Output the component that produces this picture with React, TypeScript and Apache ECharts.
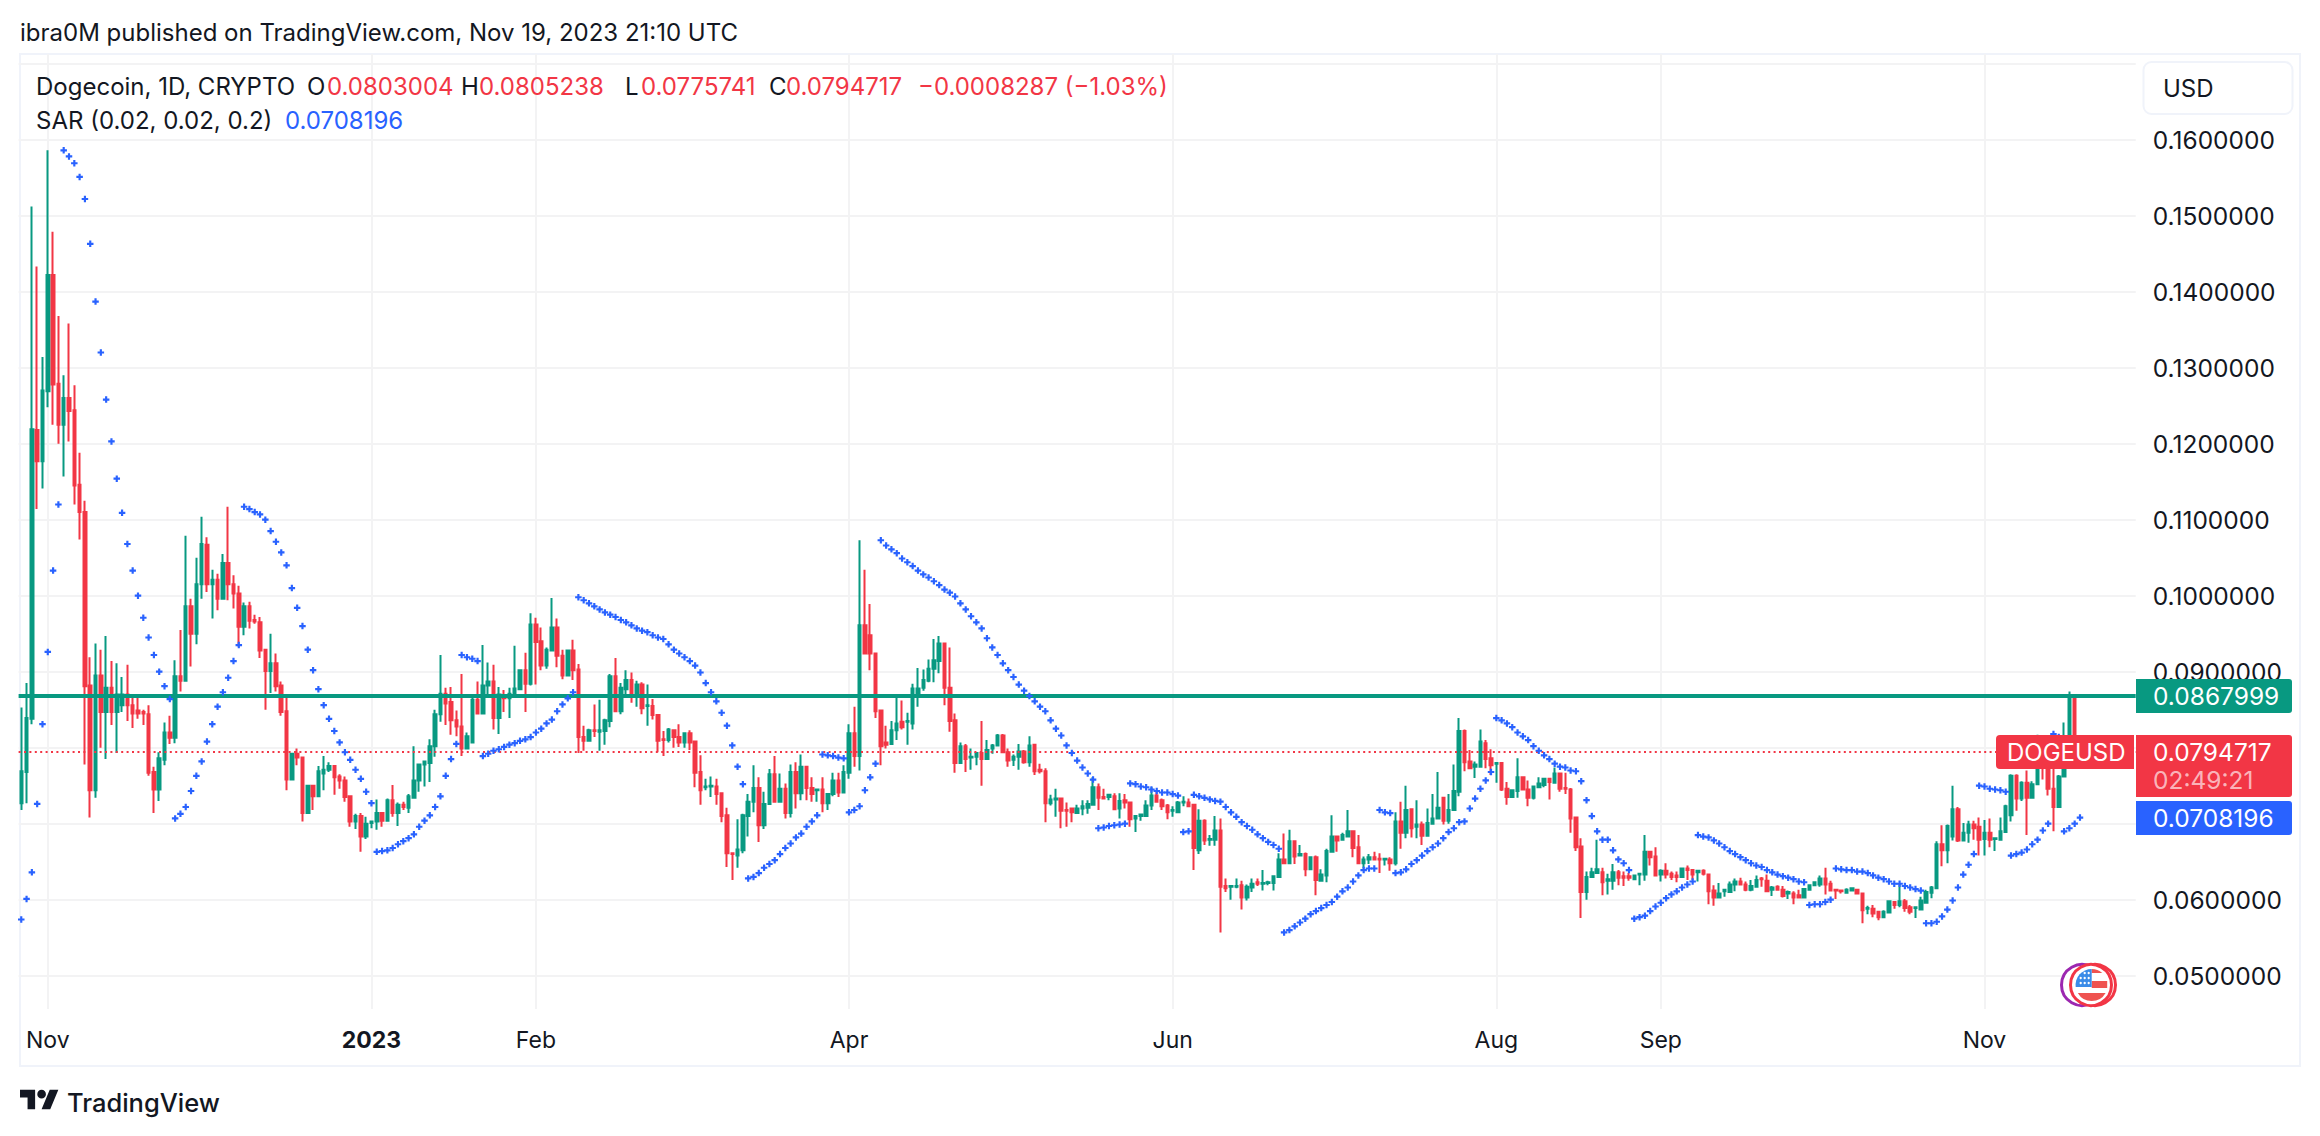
import React, { useEffect, useRef } from "react";
import * as echarts from "echarts";

// Daily bars from 2022-10-27, each row: open, close, low, high
const candles: number[][] = [
  [.0727,.0769,.0718,.0853],[.0768,.0839,.0727,.0885],[.0838,.1219,.0831,.1512],[.1218,.1177,.1114,.1433],[.1177,.1270,.1141,.1314],
  [.1269,.1422,.1248,.1586],[.1422,.1278,.1225,.1479],[.1279,.1225,.1200,.1368],[.1225,.1260,.1157,.1290],[.1260,.1243,.1203,.1358],
  [.1244,.1145,.1120,.1277],[.1146,.1110,.1074,.1188],[.1110,.0881,.0778,.1125],[.0882,.0744,.0708,.0919],[.0744,.0895,.0734,.0937],
  [.0895,.0847,.0800,.0929],[.0847,.0879,.0785,.0947],[.0879,.0847,.0830,.0914],[.0847,.0870,.0793,.0911],[.0856,.0870,.0847,.0893],
  [.0870,.0856,.0835,.0909],[.0856,.0845,.0826,.0869],[.0849,.0845,.0838,.0866],[.0847,.0845,.0830,.0850],[.0844,.0767,.0763,.0856],
  [.0768,.0745,.0714,.0775],[.0745,.0786,.0730,.0794],[.0784,.0820,.0777,.0833],[.0820,.0813,.0805,.0842],[.0813,.0894,.0806,.0915],
  [.0894,.0888,.0874,.0955],[.0888,.0986,.0888,.1079],[.0986,.0950,.0907,.0996],[.0950,.1015,.0936,.1050],[.1015,.1068,.0996,.1104],
  [.1067,.1015,.1005,.1077],[.1015,.1021,.0970,.1034],[.1021,.0996,.0981,.1029],[.0996,.1043,.0996,.1055],[.1043,.1015,.0994,.1117],
  [.1015,.1003,.0983,.1027],[.1003,.0959,.0933,.1013],[.0959,.0986,.0948,.0991],[.0986,.0967,.0957,.0992],[.0968,.0966,.0963,.0975],
  [.0965,.0928,.0918,.0972],[.0929,.0901,.0850,.0929],[.0901,.0911,.0872,.0950],[.0911,.0881,.0874,.0924],[.0882,.0847,.0842,.0887],
  [.0848,.0758,.0744,.0867],[.0758,.0792,.0758,.0792],[.0792,.0787,.0777,.0799],[.0787,.0714,.0703,.0788],[.0714,.0750,.0714,.0750],
  [.0750,.0736,.0718,.0750],[.0736,.0769,.0735,.0776],[.0766,.0771,.0744,.0789],[.0771,.0776,.0768,.0781],[.0776,.0761,.0738,.0776],
  [.0762,.0757,.0746,.0765],[.0757,.0735,.0729,.0762],[.0736,.0703,.0696,.0737],[.0703,.0710,.0693,.0713],[.0710,.0683,.0663,.0714],
  [.0683,.0700,.0680,.0709],[.0701,.0703,.0694,.0703],[.0703,.0714,.0692,.0732],[.0714,.0704,.0696,.0714],[.0704,.0731,.0704,.0733],
  [.0731,.0714,.0709,.0751],[.0714,.0725,.0697,.0728],[.0725,.0722,.0718,.0729],[.0721,.0736,.0714,.0739],[.0734,.0757,.0734,.0802],
  [.0757,.0778,.0742,.0778],[.0778,.0782,.0749,.0782],[.0780,.0802,.0755,.0811],[.0802,.0844,.0788,.0850],[.0844,.0871,.0834,.0922],
  [.0871,.0858,.0830,.0879],[.0860,.0836,.0817,.0880],[.0836,.0828,.0815,.0849],[.0828,.0799,.0789,.0897],[.0799,.0815,.0799,.0820],
  [.0807,.0863,.0807,.0867],[.0863,.0845,.0845,.0887],[.0845,.0882,.0845,.0935],[.0882,.0887,.0869,.0912],[.0887,.0839,.0824,.0909],
  [.0839,.0870,.0818,.0880],[.0867,.0865,.0847,.0876],[.0865,.0871,.0839,.0879],[.0871,.0878,.0867,.0934],[.0877,.0902,.0877,.0902],
  [.0902,.0884,.0847,.0925],[.0884,.0962,.0882,.0977],[.0962,.0939,.0883,.0971],[.0940,.0908,.0902,.0958],[.0908,.0929,.0904,.0932],
  [.0928,.0958,.0928,.0997],[.0958,.0921,.0906,.0970],[.0921,.0895,.0890,.0929],[.0895,.0928,.0895,.0929],[.0928,.0902,.0889,.0942],
  [.0903,.0814,.0793,.0910],[.0814,.0809,.0796,.0829],[.0809,.0823,.0809,.0825],[.0823,.0822,.0814,.0857],[.0821,.0823,.0796,.0863],
  [.0822,.0836,.0804,.0838],[.0835,.0894,.0827,.0897],[.0894,.0848,.0848,.0918],[.0848,.0879,.0844,.0885],[.0877,.0889,.0870,.0902],
  [.0889,.0869,.0859,.0899],[.0869,.0883,.0854,.0888],[.0883,.0852,.0844,.0886],[.0855,.0856,.0829,.0883],[.0855,.0843,.0837,.0864],
  [.0843,.0809,.0794,.0843],[.0811,.0810,.0789,.0822],[.0810,.0824,.0807,.0826],[.0823,.0814,.0800,.0824],[.0814,.0807,.0801,.0831],
  [.0807,.0819,.0800,.0819],[.0819,.0807,.0797,.0823],[.0808,.0767,.0748,.0808],[.0768,.0744,.0725,.0790],[.0748,.0749,.0744,.0759],
  [.0749,.0750,.0735,.0762],[.0749,.0739,.0725,.0759],[.0740,.0710,.0702,.0740],[.0711,.0661,.0643,.0721],[.0661,.0660,.0626,.0661],
  [.0658,.0666,.0642,.0706],[.0665,.0711,.0661,.0713],[.0710,.0729,.0683,.0739],[.0729,.0747,.0715,.0777],[.0747,.0698,.0676,.0761],
  [.0698,.0726,.0693,.0742],[.0726,.0765,.0725,.0772],[.0765,.0729,.0728,.0789],[.0729,.0746,.0729,.0766],[.0746,.0714,.0707,.0753],
  [.0714,.0768,.0708,.0778],[.0768,.0740,.0720,.0781],[.0740,.0775,.0731,.0791],[.0775,.0747,.0731,.0775],[.0747,.0739,.0729,.0761],
  [.0744,.0745,.0729,.0745],[.0745,.0727,.0715,.0761],[.0727,.0739,.0718,.0739],[.0739,.0757,.0736,.0767],[.0757,.0741,.0735,.0767],
  [.0741,.0768,.0741,.0777],[.0767,.0819,.0759,.0831],[.0819,.0789,.0775,.0854],[.0789,.0961,.0770,.1073],[.0961,.0924,.0924,.1034],
  [.0948,.0924,.0902,.0989],[.0924,.0848,.0839,.0924],[.0849,.0802,.0777,.0849],[.0807,.0804,.0799,.0829],[.0805,.0823,.0805,.0835],
  [.0823,.0832,.0810,.0866],[.0834,.0827,.0824,.0862],[.0834,.0835,.0804,.0846],[.0832,.0878,.0824,.0884],[.0867,.0878,.0854,.0905],
  [.0879,.0889,.0875,.0903],[.0888,.0904,.0886,.0916],[.0904,.0915,.0886,.0943],[.0914,.0937,.0898,.0947],[.0937,.0879,.0856,.0937],
  [.0879,.0835,.0821,.0932],[.0836,.0780,.0767,.0845],[.0780,.0802,.0780,.0807],[.0802,.0785,.0768,.0805],[.0787,.0788,.0771,.0799],
  [.0788,.0793,.0777,.0794],[.0793,.0785,.0750,.0835],[.0785,.0797,.0785,.0810],[.0799,.0803,.0792,.0805],[.0803,.0816,.0803,.0818],
  [.0816,.0794,.0794,.0818],[.0794,.0783,.0775,.0799],[.0784,.0788,.0776,.0791],[.0788,.0795,.0771,.0805],[.0795,.0781,.0779,.0797],
  [.0781,.0803,.0775,.0815],[.0804,.0769,.0764,.0805],[.0771,.0769,.0766,.0779],[.0769,.0727,.0702,.0773],[.0727,.0732,.0724,.0738],
  [.0732,.0733,.0709,.0746],[.0733,.0717,.0694,.0733],[.0718,.0717,.0696,.0728],[.0720,.0715,.0702,.0720],[.0714,.0720,.0714,.0725],
  [.0720,.0723,.0711,.0731],[.0721,.0726,.0713,.0731],[.0725,.0748,.0725,.0761],[.0748,.0734,.0718,.0753],[.0735,.0733,.0732,.0746],
  [.0735,.0738,.0731,.0739],[.0736,.0719,.0719,.0740],[.0720,.0730,.0707,.0740],[.0731,.0728,.0720,.0739],[.0728,.0706,.0696,.0728],
  [.0707,.0710,.0689,.0711],[.0710,.0712,.0704,.0713],[.0710,.0724,.0710,.0731],[.0724,.0737,.0718,.0748],[.0737,.0729,.0728,.0742],
  [.0731,.0723,.0718,.0733],[.0724,.0715,.0706,.0726],[.0717,.0718,.0709,.0723],[.0715,.0728,.0715,.0730],[.0728,.0729,.0723,.0736],
  [.0728,.0723,.0723,.0733],[.0725,.0668,.0639,.0726],[.0665,.0704,.0660,.0719],[.0704,.0678,.0672,.0706],[.0679,.0680,.0671,.0685],
  [.0679,.0691,.0671,.0710],[.0691,.0617,.0557,.0707],[.0618,.0615,.0610,.0628],[.0617,.0618,.0600,.0618],[.0617,.0618,.0615,.0628],
  [.0619,.0603,.0587,.0625],[.0603,.0617,.0599,.0620],[.0616,.0621,.0610,.0628],[.0623,.0621,.0618,.0628],[.0621,.0622,.0612,.0639],
  [.0622,.0623,.0619,.0625],[.0622,.0631,.0612,.0632],[.0630,.0653,.0630,.0661],[.0653,.0648,.0648,.0687],[.0648,.0677,.0648,.0692],
  [.0677,.0657,.0647,.0678],[.0658,.0660,.0657,.0672],[.0660,.0640,.0631,.0662],[.0640,.0656,.0639,.0657],[.0656,.0626,.0606,.0658],
  [.0625,.0633,.0625,.0640],[.0632,.0664,.0623,.0667],[.0663,.0683,.0663,.0711],[.0683,.0678,.0663,.0684],[.0679,.0685,.0678,.0688],
  [.0683,.0690,.0683,.0718],[.0690,.0668,.0656,.0691],[.0669,.0648,.0648,.0685],[.0648,.0653,.0641,.0657],[.0653,.0656,.0647,.0660],
  [.0656,.0653,.0652,.0663],[.0654,.0653,.0635,.0661],[.0653,.0654,.0645,.0655],[.0653,.0648,.0638,.0656],[.0648,.0703,.0645,.0715],
  [.0703,.0688,.0667,.0729],[.0688,.0718,.0681,.0750],[.0719,.0694,.0682,.0720],[.0696,.0699,.0681,.0731],[.0699,.0684,.0672,.0703],
  [.0684,.0701,.0684,.0720],[.0700,.0707,.0700,.0739],[.0707,.0721,.0707,.0768],[.0734,.0704,.0699,.0735],[.0704,.0718,.0700,.0739],
  [.0718,.0743,.0718,.0778],[.0742,.0822,.0736,.0839],[.0822,.0781,.0769,.0824],[.0782,.0773,.0773,.0797],[.0775,.0778,.0760,.0782],
  [.0775,.0808,.0774,.0824],[.0806,.0785,.0773,.0810],[.0786,.0777,.0764,.0798],[.0779,.0780,.0754,.0781],[.0780,.0745,.0743,.0780],
  [.0746,.0735,.0725,.0755],[.0735,.0744,.0734,.0744],[.0743,.0761,.0734,.0786],[.0761,.0745,.0745,.0762],[.0745,.0734,.0723,.0757],
  [.0734,.0749,.0732,.0749],[.0748,.0753,.0748,.0761],[.0751,.0759,.0748,.0760],[.0759,.0755,.0732,.0760],[.0754,.0766,.0754,.0774],
  [.0766,.0746,.0742,.0767],[.0747,.0746,.0739,.0767],[.0745,.0707,.0688,.0747],[.0708,.0669,.0664,.0709],[.0670,.0610,.0576,.0681],
  [.0610,.0630,.0600,.0637],[.0630,.0636,.0630,.0642],[.0635,.0640,.0634,.0679],[.0636,.0623,.0606,.0642],[.0625,.0627,.0607,.0634],
  [.0625,.0636,.0613,.0647],[.0636,.0629,.0619,.0639],[.0631,.0629,.0618,.0637],[.0631,.0629,.0625,.0635],[.0627,.0632,.0627,.0633],
  [.0633,.0634,.0619,.0634],[.0633,.0663,.0625,.0685],[.0663,.0656,.0645,.0664],[.0657,.0632,.0631,.0669],[.0633,.0638,.0624,.0640],
  [.0638,.0633,.0628,.0648],[.0634,.0630,.0626,.0637],[.0632,.0630,.0623,.0637],[.0630,.0641,.0630,.0642],[.0641,.0639,.0626,.0645],
  [.0639,.0633,.0626,.0639],[.0636,.0638,.0624,.0639],[.0638,.0634,.0632,.0640],[.0633,.0611,.0594,.0633],[.0612,.0603,.0592,.0619],
  [.0603,.0608,.0603,.0622],[.0611,.0613,.0604,.0614],[.0610,.0620,.0610,.0624],[.0620,.0624,.0611,.0628],[.0624,.0620,.0620,.0629],
  [.0620,.0613,.0611,.0624],[.0613,.0618,.0611,.0626],[.0617,.0626,.0617,.0632],[.0628,.0627,.0617,.0630],[.0625,.0611,.0611,.0633],
  [.0613,.0616,.0605,.0618],[.0617,.0613,.0612,.0619],[.0613,.0605,.0603,.0618],[.0608,.0610,.0601,.0612],[.0608,.0603,.0594,.0611],
  [.0606,.0603,.0602,.0613],[.0603,.0614,.0603,.0614],[.0613,.0619,.0612,.0620],[.0619,.0623,.0618,.0624],[.0620,.0628,.0617,.0632],
  [.0628,.0620,.0607,.0642],[.0621,.0612,.0611,.0625],[.0613,.0612,.0601,.0613],[.0612,.0611,.0608,.0613],[.0609,.0613,.0608,.0615],
  [.0612,.0615,.0611,.0616],[.0613,.0608,.0608,.0614],[.0608,.0586,.0569,.0609],[.0588,.0589,.0581,.0592],[.0588,.0582,.0577,.0593],
  [.0584,.0577,.0573,.0585],[.0577,.0584,.0577,.0586],[.0583,.0598,.0583,.0599],[.0597,.0593,.0588,.0598],[.0593,.0598,.0590,.0621],
  [.0598,.0589,.0584,.0601],[.0590,.0584,.0581,.0593],[.0589,.0590,.0576,.0591],[.0587,.0599,.0587,.0604],[.0596,.0610,.0595,.0613],
  [.0609,.0616,.0602,.0618],[.0615,.0673,.0615,.0677],[.0673,.0665,.0644,.0698],[.0665,.0697,.0648,.0699],[.0683,.0719,.0678,.0750],
  [.0719,.0678,.0676,.0722],[.0678,.0688,.0677,.0701],[.0688,.0699,.0675,.0704],[.0699,.0694,.0679,.0704],[.0696,.0679,.0658,.0708],
  [.0680,.0688,.0658,.0705],[.0688,.0679,.0669,.0707],[.0680,.0681,.0664,.0682],[.0679,.0690,.0678,.0708],[.0689,.0723,.0689,.0725],
  [.0711,.0763,.0703,.0765],[.0763,.0733,.0717,.0765],[.0733,.0754,.0730,.0756],[.0754,.0734,.0685,.0770],[.0734,.0752,.0733,.0756],
  [.0752,.0783,.0752,.0817],[.0795,.0783,.0758,.0815],[.0772,.0746,.0737,.0790],[.0746,.0722,.0690,.0772],[.0722,.0762,.0722,.0764],
  [.0762,.0790,.0761,.0833],[.0790,.0868,.0788,.0874],[.0866,.0803,.0795,.0866],[.0803,.0795,.0776,.0805],
];

// Parabolic SAR, one value per bar
const sar: number[] = [
  .0574,.0601,.0636,.0726,.0831,.0926,.1033,.1120,.1586,.1578,.1569,.1551,.1522,.1463,.1387,.1320,.1258,.1203,.1154,.1109,
  .1068,.1033,.1000,.0971,.0945,.0922,.0900,.0881,.0864,.0707,.0713,.0722,.0743,.0763,.0782,.0808,.0831,.0854,.0873,.0892,
  .0914,.0935,.1117,.1114,.1110,.1107,.1100,.1085,.1071,.1057,.1040,.1010,.0984,.0960,.0929,.0902,.0877,.0856,.0838,.0822,
  .0807,.0794,.0784,.0771,.0759,.0742,.0727,.0663,.0664,.0665,.0668,.0673,.0677,.0681,.0686,.0696,.0704,.0711,.0722,.0736,
  .0763,.0785,.0805,.0922,.0919,.0917,.0914,.0789,.0792,.0796,.0798,.0801,.0804,.0806,.0809,.0811,.0814,.0820,.0825,.0832,
  .0837,.0848,.0857,.0865,.0873,.0998,.0994,.0990,.0986,.0982,.0978,.0975,.0972,.0968,.0965,.0961,.0957,.0954,.0952,.0948,
  .0945,.0943,.0936,.0929,.0924,.0919,.0914,.0908,.0899,.0885,.0873,.0861,.0846,.0829,.0803,.0775,.0752,.0628,.0630,.0635,
  .0642,.0647,.0652,.0660,.0668,.0674,.0682,.0687,.0696,.0703,.0711,.0791,.0790,.0789,.0787,.0786,.0715,.0718,.0723,.0744,
  .0761,.0779,.1073,.1066,.1061,.1056,.1049,.1044,.1039,.1033,.1028,.1024,.1019,.1014,.1008,.1004,.0999,.0990,.0982,.0973,
  .0965,.0957,.0944,.0932,.0922,.0911,.0902,.0893,.0883,.0875,.0868,.0861,.0854,.0848,.0836,.0825,.0816,.0803,.0793,.0783,
  .0774,.0766,.0758,.0694,.0695,.0697,.0698,.0699,.0700,.0753,.0752,.0749,.0748,.0745,.0743,.0741,.0741,.0739,.0737,.0689,
  .0690,.0738,.0736,.0734,.0732,.0730,.0729,.0722,.0715,.0709,.0702,.0697,.0692,.0686,.0681,.0676,.0672,.0667,.0557,.0560,
  .0565,.0570,.0575,.0581,.0585,.0589,.0593,.0597,.0604,.0611,.0616,.0624,.0632,.0639,.0641,.0641,.0718,.0715,.0714,.0635,
  .0636,.0640,.0647,.0652,.0658,.0664,.0669,.0674,.0681,.0689,.0694,.0702,.0703,.0720,.0733,.0746,.0757,.0768,.0839,.0836,
  .0832,.0827,.0820,.0815,.0810,.0802,.0796,.0790,.0785,.0779,.0775,.0774,.0770,.0769,.0756,.0731,.0710,.0690,.0679,.0679,
  .0665,.0653,.0648,.0639,.0575,.0577,.0579,.0585,.0591,.0596,.0602,.0607,.0611,.0616,.0620,.0624,.0685,.0683,.0682,.0678,
  .0674,.0669,.0664,.0660,.0656,.0652,.0648,.0645,.0643,.0639,.0636,.0633,.0631,.0629,.0627,.0624,.0623,.0593,.0594,.0594,
  .0597,.0600,.0641,.0640,.0639,.0639,.0637,.0637,.0635,.0632,.0629,.0627,.0624,.0621,.0621,.0618,.0616,.0614,.0612,.0569,
  .0569,.0571,.0578,.0587,.0599,.0616,.0633,.0646,.0660,.0750,.0749,.0746,.0745,.0744,.0742,.0658,.0660,.0662,.0666,.0673,
  .0679,.0691,.0700,.0818,.0814,.0690,.0694,.0700,.0708,
];

const firstDay = "2022-10-27";
const blankBars = 10; // empty space right of the last bar
const monthTicks: Record<string, string> = {
  "2022-11-01": "Nov",
  "2023-01-01": "{b|2023}",
  "2023-02-01": "Feb",
  "2023-04-01": "Apr",
  "2023-06-01": "Jun",
  "2023-08-01": "Aug",
  "2023-09-01": "Sep",
  "2023-11-01": "Nov",
};
const hiddenPriceLabels = ["0.1700000", "0.0800000", "0.0700000"];

const resistance = 0.0867999;
const lastClose = 0.0794717;

const categories: string[] = Array.from({ length: candles.length + blankBars }, (_, i) =>
  new Date(Date.parse(firstDay + "T00:00:00Z") + i * 86400000).toISOString().slice(0, 10)
);

const INK = "#131722";
const GREEN = "#089981";
const RED = "#F23645";
const BLUE = "#2962FF";
const GRID = "#f3f3f4";
const FONT = "Inter, 'Noto Sans', sans-serif";

echarts.graphic.registerShape(
  "tvLogo",
  echarts.graphic.extendPath("M14 22H7V11H0V4h14v18zM28 22h-8l7.5-18h8L28 22zM24 8a4 4 0 1 1-8 0a4 4 0 1 1 8 0z", {})
);
echarts.graphic.registerShape("flagCanton", echarts.graphic.extendPath("M-16,2A16,16 0 0 1 0,-16L0,2Z", {}));
echarts.graphic.registerShape("flagTop", echarts.graphic.extendPath("M0,-16A16,16 0 0 1 10.6,-12L0,-12Z", {}));
echarts.graphic.registerShape("flagMid", echarts.graphic.extendPath("M0,-4L15.5,-4L15.5,3L0,3Z", {}));
echarts.graphic.registerShape("flagBottom", echarts.graphic.extendPath("M-13.9,8A16,16 0 0 0 13.9,8Z", {}));

const txt = (text: string, x: number, y: number, fill: string, size = 24, extra: any = {}) => ({
  type: "text",
  z: 100,
  style: { text, x, y, fill, font: `${size}px ${FONT}`, textVerticalAlign: "middle", ...extra },
});

const priceTag = (y: number, h: number, fill: string) => ({
  type: "rect",
  z: 90,
  shape: { x: 2136, y, width: 156, height: h, r: [0, 3, 3, 0] },
  style: { fill },
});

const stars: any[] = [];
[-12, -7, -2].forEach((dy, row) =>
  [-11, -7, -3].forEach((dx) => {
    if (row === 0 && dx === -11) return;
    stars.push({ type: "circle", z: 104, shape: { cx: 2091.7 + dx, cy: 985 + dy, r: 1.2 }, style: { fill: "#fff" } });
  })
);

const flagAt = { x: 2091.7, y: 985 };

const graphics: any[] = [
  { type: "rect", z: 0, shape: { x: 20, y: 54, width: 2280, height: 1012 }, style: { fill: "none", stroke: "#f0f3fa", lineWidth: 2 } },
  txt("ibra0M published on TradingView.com, Nov 19, 2023 21:10 UTC", 20, 32, INK),
  txt("Dogecoin, 1D, CRYPTO", 36, 86, INK),
  txt("O", 307, 86, INK),
  txt("0.0803004", 327, 86, RED),
  txt("H", 461, 86, INK),
  txt("0.0805238", 479, 86, RED),
  txt("L", 625, 86, INK),
  txt("0.0775741", 641, 86, RED),
  txt("C", 769, 86, INK),
  txt("0.0794717", 786, 86, RED),
  txt("\u22120.0008287 (\u22121.03%)", 918, 86, RED),
  txt("SAR (0.02, 0.02, 0.2)", 36, 120, INK),
  txt("0.0708196", 285, 120, BLUE),
  {
    type: "rect", z: 90,
    shape: { x: 2143.5, y: 62, width: 149, height: 52, r: 8 },
    style: { fill: "#fff", stroke: "#f0f3fa", lineWidth: 2 },
  },
  txt("USD", 2163, 88, INK),
  priceTag(679, 34, GREEN),
  txt("0.0867999", 2153, 696, "#fff", 24.5),
  priceTag(735, 62, RED),
  txt("0.0794717", 2153, 752, "#fff", 24.5),
  txt("02:49:21", 2153, 780, "rgba(255,255,255,0.65)", 24.5),
  priceTag(801, 34, BLUE),
  txt("0.0708196", 2153, 818, "#fff", 24.5),
  {
    type: "rect", z: 90,
    shape: { x: 1996, y: 735, width: 138, height: 34, r: [4, 0, 0, 4] },
    style: { fill: RED },
  },
  txt("DOGEUSD", 2007, 752, "#fff"),
  { type: "circle", z: 100, shape: { cx: 2082, cy: 985, r: 20.5 }, style: { fill: "#fff", stroke: "#9C27B0", lineWidth: 3 } },
  { type: "circle", z: 101, shape: { cx: 2095, cy: 985, r: 20.5 }, style: { fill: "#fff", stroke: RED, lineWidth: 3 } },
  { type: "circle", z: 101, shape: { cx: 2091, cy: 985, r: 20.5 }, style: { fill: "#fff", stroke: RED, lineWidth: 3 } },
  { type: "flagTop", z: 103, ...flagAt, style: { fill: "#EF5350" } },
  { type: "flagMid", z: 103, ...flagAt, style: { fill: "#EF5350" } },
  { type: "flagBottom", z: 103, ...flagAt, style: { fill: "#EF5350" } },
  { type: "flagCanton", z: 103, ...flagAt, style: { fill: "#3B8CE8" } },
  ...stars,
  { type: "tvLogo", z: 100, x: 20, y: 1085.5, scaleX: 1.08, scaleY: 1.08, style: { fill: INK } },
  txt("TradingView", 67, 1102, INK, 25, { font: `500 25.5px ${FONT}` }),
];

const isMonthTick = (_i: number, value: string) => value in monthTicks;

const option: any = {
  animation: false,
  backgroundColor: "#ffffff",
  tooltip: { show: false },
  grid: [
    { left: 18.6, width: 2117.1, top: 63.7, height: 912 },
    { left: 18.6, width: 2117.1, top: 54, height: 955 },
  ],
  xAxis: [
    { gridIndex: 0, type: "category", data: categories, show: false },
    {
      gridIndex: 1,
      type: "category",
      data: categories,
      axisLine: { show: false },
      axisTick: { show: false },
      splitLine: { show: true, interval: isMonthTick, alignWithLabel: true, lineStyle: { color: GRID, width: 2 } },
      axisLabel: {
        interval: isMonthTick,
        margin: 19,
        hideOverlap: false,
        showMinLabel: true,
        showMaxLabel: true,
        color: INK,
        fontFamily: FONT,
        fontSize: 23,
        formatter: (v: string) => monthTicks[v] ?? "",
        rich: { b: { fontWeight: 700, fontSize: 23, color: INK, fontFamily: FONT } },
      },
    },
  ],
  yAxis: [
    {
      gridIndex: 0,
      type: "value",
      position: "right",
      min: 0.05,
      max: 0.17,
      interval: 0.01,
      axisLine: { show: false },
      axisTick: { show: false },
      splitLine: { show: true, lineStyle: { color: GRID, width: 2 } },
      axisLabel: {
        inside: false,
        margin: 17,
        color: INK,
        fontFamily: FONT,
        fontSize: 24.5,
        formatter: (v: number) => {
          const s = v.toFixed(7);
          return hiddenPriceLabels.includes(s) ? "" : s;
        },
      },
    },
    { gridIndex: 1, type: "value", min: 0, max: 1, show: false },
  ],
  series: [
    {
      type: "candlestick",
      xAxisIndex: 0,
      yAxisIndex: 0,
      data: candles,
      barWidth: 3,
      large: false,
      progressive: 0,
      emphasis: { disabled: true },
      itemStyle: { color: GREEN, color0: RED, borderColor: GREEN, borderColor0: RED, borderWidth: 2 },
      markLine: {
        silent: true,
        animation: false,
        precision: 8,
        symbol: "none",
        label: { show: false },
        data: [
          { yAxis: resistance, lineStyle: { color: GREEN, width: 4, type: "solid" } },
          { yAxis: lastClose, lineStyle: { color: RED, width: 2, type: [2, 3.4] } },
        ],
      },
    },
    {
      type: "scatter",
      xAxisIndex: 0,
      yAxisIndex: 0,
      data: sar,
      z: 5,
      symbol: "path://M-1,-3H1V-1H3V1H1V3H-1V1H-3V-1H-1Z",
      symbolSize: 6.5,
      itemStyle: { color: BLUE, opacity: 1 },
      emphasis: { disabled: true },
    },
  ],
  graphic: graphics,
};

export default function App() {
  const ref = useRef<HTMLDivElement>(null);
  useEffect(() => {
    document.body.style.margin = "0";
    const chart = echarts.init(ref.current!, undefined, { renderer: "svg" });
    chart.setOption(option);
    return () => chart.dispose();
  }, []);
  return <div ref={ref} style={{ position: "absolute", left: 0, top: 0, width: 2320, height: 1136 }} />;
}
